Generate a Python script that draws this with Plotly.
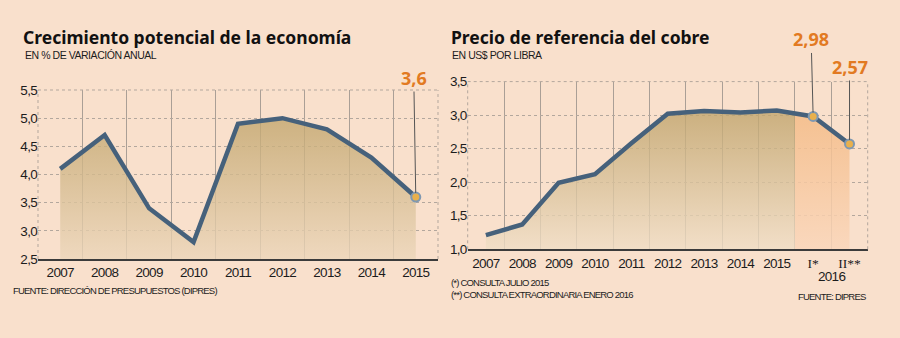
import plotly.graph_objects as go

# ---------------- data ----------------
growth_years = ["2007", "2008", "2009", "2010", "2011", "2012", "2013", "2014", "2015"]
growth_values = [4.1, 4.7, 3.4, 2.8, 4.9, 5.0, 4.8, 4.3, 3.6]
growth_yticks = [2.5, 3.0, 3.5, 4.0, 4.5, 5.0, 5.5]

copper_cats = ["2007", "2008", "2009", "2010", "2011", "2012", "2013", "2014", "2015", "I*", "II**"]
copper_values = [1.21, 1.37, 1.99, 2.12, 2.58, 3.02, 3.06, 3.04, 3.07, 2.98, 2.57]
copper_yticks = [1.0, 1.5, 2.0, 2.5, 3.0, 3.5]
n_forecast = 2  # last two points are 2016 forecasts

# ---------------- style ----------------
BG = "#f9e0cc"
LINE = "#46617b"
GRID = "#b3a79d"
VGRID = "#aa9f96"
ORANGE = "#e27a22"
SANS = "Liberation Sans, Arial, sans-serif"
BOLD = "Noto Sans, DejaVu Sans, sans-serif"
TXT = "#1c1c1c"


def fmt(v, d):
    return f"{v:.{d}f}".replace(".", ",")


def tight(s, ls):
    return f"<span style='letter-spacing:{ls}px'>{s}</span>"


fig = go.Figure()

# ---- left chart ----
xl = list(range(len(growth_years)))
fig.add_trace(go.Scatter(
    x=xl, y=growth_values, mode="none", fill="tozeroy",
    fillgradient=dict(type="vertical",
                      colorscale=[[0, "rgba(236,214,186,0.8)"], [1, "rgba(194,166,110,0.8)"]],
                      start=growth_yticks[0], stop=growth_values[5]),
    xaxis="x", yaxis="y", hoverinfo="skip", showlegend=False))
fig.add_trace(go.Scatter(
    x=xl, y=growth_values, mode="lines", line=dict(color=LINE, width=4.5),
    xaxis="x", yaxis="y", showlegend=False))
fig.add_trace(go.Scatter(
    x=[xl[-1]], y=[growth_values[-1]], mode="markers",
    marker=dict(size=9, color="#e9b04c", line=dict(color="#7f98b1", width=2)),
    xaxis="x", yaxis="y", showlegend=False))

# ---- right chart ----
xr = list(range(len(copper_cats)))
split = len(copper_cats) - n_forecast  # index of first forecast
split_x = split - 0.5
split_y = (copper_values[split - 1] + copper_values[split]) / 2
fig.add_trace(go.Scatter(
    x=xr[:split] + [split_x], y=copper_values[:split] + [split_y], mode="none", fill="tozeroy",
    fillgradient=dict(type="vertical",
                      colorscale=[[0, "rgba(240,222,198,0.8)"], [1, "rgba(192,164,108,0.8)"]],
                      start=copper_yticks[0], stop=copper_values[6]),
    xaxis="x2", yaxis="y2", hoverinfo="skip", showlegend=False))
fig.add_trace(go.Scatter(
    x=[split_x] + xr[split:], y=[split_y] + copper_values[split:], mode="none", fill="tozeroy",
    fillgradient=dict(type="vertical",
                      colorscale=[[0, "rgba(250,214,186,0.85)"], [1, "rgba(244,188,136,0.85)"]],
                      start=copper_yticks[0], stop=copper_values[split]),
    xaxis="x2", yaxis="y2", hoverinfo="skip", showlegend=False))
fig.add_trace(go.Scatter(
    x=xr, y=copper_values, mode="lines", line=dict(color=LINE, width=4.5),
    xaxis="x2", yaxis="y2", showlegend=False))
fig.add_trace(go.Scatter(
    x=xr[split:], y=copper_values[split:], mode="markers",
    marker=dict(size=9, color="#e9b04c", line=dict(color="#7f98b1", width=2)),
    xaxis="x2", yaxis="y2", showlegend=False))

W, H = 900, 338


def px_x(p):
    return p / W


def px_y(p):
    return 1 - p / H


TICK_LS = -0.7
tickfont = dict(family=SANS, size=13.5, color=TXT)

growth_ticktext = [tight(y, TICK_LS) for y in growth_years]
copper_ticktext = [tight(c, TICK_LS) if not c.startswith("I") else
                   f"<span style='font-family:Liberation Serif, serif'>{c}</span>" for c in copper_cats]
growth_yticktext = [tight(fmt(v, 1), TICK_LS) for v in growth_yticks]
copper_yticktext = [tight(fmt(v, 1), TICK_LS) for v in copper_yticks]

common_x = dict(showgrid=False, zeroline=False, ticks="", showline=True, automargin=False,
                linecolor="#3b3b3b", linewidth=2, tickfont=tickfont, fixedrange=True)
common_y = dict(showgrid=True, gridcolor=GRID, griddash="dot", gridwidth=1, zeroline=False,
                automargin=False, ticks="", tickfont=tickfont,
                fixedrange=True, showline=False)

fig.update_layout(
    width=W, height=H, margin=dict(l=0, r=0, t=0, b=0, pad=0, autoexpand=False),
    paper_bgcolor=BG, plot_bgcolor=BG, separators=",.",
    xaxis=dict(domain=[px_x(38), px_x(438)], range=[-0.5, len(growth_years) - 0.5],
               tickvals=xl, ticktext=growth_ticktext, anchor="y",
               minor=dict(tickmode="array", tickvals=[i + 0.5 for i in xl[:-1]],
                          showgrid=True, gridcolor=VGRID, gridwidth=1, ticks=""),
               **common_x),
    yaxis=dict(domain=[px_y(259), px_y(90)], range=[growth_yticks[0], growth_yticks[-1]],
               tickvals=growth_yticks, ticktext=growth_yticktext, anchor="x", **common_y),
    xaxis2=dict(domain=[px_x(467.7), px_x(867.7)], range=[-0.5, len(copper_cats) - 0.5],
                tickvals=xr, ticktext=copper_ticktext, anchor="y2",
                minor=dict(tickmode="array", tickvals=[i + 0.5 for i in xr[:-1]],
                           showgrid=True, gridcolor=VGRID, gridwidth=1, ticks=""),
                **common_x),
    yaxis2=dict(domain=[px_y(249.3), px_y(81.6)], range=[copper_yticks[0], copper_yticks[-1]],
                tickvals=copper_yticks, ticktext=copper_yticktext, anchor="x2", **common_y),
)

# dotted frame edges
for xa, ya in (("x", "y"), ("x2", "y2")):
    for xv in (0, 1):
        fig.add_shape(type="line", xref=f"{xa} domain", yref=f"{ya} domain",
                      x0=xv, x1=xv, y0=0, y1=1, line=dict(color=GRID, width=1, dash="dot"))
    fig.add_shape(type="line", xref=f"{xa} domain", yref=f"{ya} domain",
                  x0=0, x1=1, y0=1, y1=1, line=dict(color=GRID, width=1, dash="dot"))

ann = []
# value callouts
lbl_font = dict(family=BOLD, size=18, color=ORANGE)
ann.append(dict(x=xl[-1], y=growth_values[-1], xref="x", yref="y", text=f"<b>{fmt(growth_values[-1], 1)}</b>",
                showarrow=True, arrowhead=0, arrowwidth=1, arrowcolor="#555555", ax=-2, ay=-119,
                standoff=4, font=lbl_font))
ann.append(dict(x=xr[split], y=copper_values[split], xref="x2", yref="y2",
                text=f"<b>{fmt(copper_values[split], 2)}</b>",
                showarrow=True, arrowhead=0, arrowwidth=1, arrowcolor="#555555", ax=-2, ay=-77,
                standoff=4, font=lbl_font))
ann.append(dict(x=xr[split + 1], y=copper_values[split + 1], xref="x2", yref="y2",
                text=f"<b>{fmt(copper_values[split + 1], 2)}</b>",
                showarrow=True, arrowhead=0, arrowwidth=1, arrowcolor="#555555", ax=0, ay=-77,
                standoff=4, font=lbl_font))

# year label under the forecast ticks
ann.append(dict(x=(xr[split] + xr[split + 1]) / 2, y=px_y(276), xref="x2", yref="paper",
                text=tight("2016", TICK_LS), showarrow=False, font=tickfont,
                xanchor="center", yanchor="middle"))

# titles
title_font = dict(family=BOLD, size=17.5, color="#111111")
sub_font = dict(family=SANS, size=10.5, color=TXT)
foot_font = dict(family=SANS, size=9.5, color=TXT)
SUB_LS = -0.45
FOOT_LS = -0.8
ann.append(dict(x=px_x(21), y=px_y(37), xref="paper", yref="paper", xanchor="left", yanchor="middle",
                text="<b>Crecimiento potencial de la economía</b>", showarrow=False, font=title_font))
ann.append(dict(x=px_x(23), y=px_y(55), xref="paper", yref="paper", xanchor="left", yanchor="middle",
                text=tight("EN % DE VARIACIÓN ANUAL", SUB_LS), showarrow=False, font=sub_font))
ann.append(dict(x=px_x(449), y=px_y(37), xref="paper", yref="paper", xanchor="left", yanchor="middle",
                text="<b>Precio de referencia del cobre</b>", showarrow=False, font=title_font))
ann.append(dict(x=px_x(450), y=px_y(55), xref="paper", yref="paper", xanchor="left", yanchor="middle",
                text=tight("EN US$ POR LIBRA", SUB_LS), showarrow=False, font=sub_font))

# footnotes
ann.append(dict(x=px_x(11), y=px_y(290), xref="paper", yref="paper", xanchor="left", yanchor="middle",
                text=tight("FUENTE: DIRECCIÓN DE PRESUPUESTOS (DIPRES)", FOOT_LS), showarrow=False,
                font=foot_font))
ann.append(dict(x=px_x(449), y=px_y(282), xref="paper", yref="paper", xanchor="left", yanchor="middle",
                text=tight("(*) CONSULTA JULIO 2015", FOOT_LS), showarrow=False, font=foot_font))
ann.append(dict(x=px_x(449), y=px_y(294), xref="paper", yref="paper", xanchor="left", yanchor="middle",
                text=tight("(**) CONSULTA EXTRAORDINARIA ENERO 2016", FOOT_LS), showarrow=False,
                font=foot_font))
ann.append(dict(x=px_x(868), y=px_y(296), xref="paper", yref="paper", xanchor="right", yanchor="middle",
                text=tight("FUENTE: DIPRES", FOOT_LS), showarrow=False, font=foot_font))

fig.update_layout(annotations=ann)

fig.write_html("out.html")
